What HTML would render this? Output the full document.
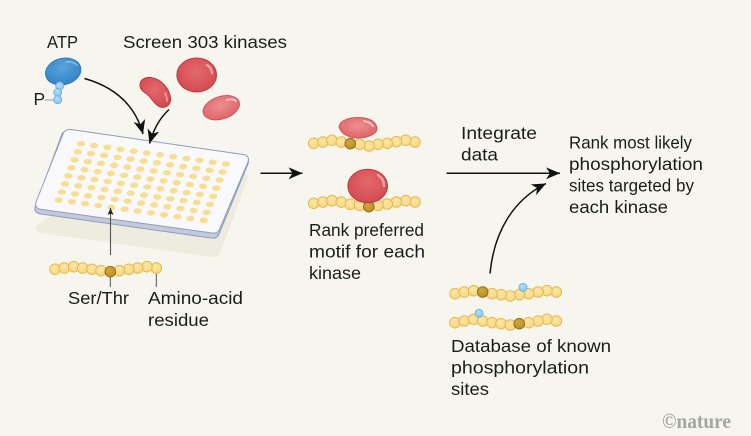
<!DOCTYPE html>
<html><head><meta charset="utf-8"><style>
html,body{margin:0;padding:0;background:#f6f5ee;}
svg{display:block;}
text{font-family:"Liberation Sans",sans-serif;font-size:17.4px;fill:#1c1c1c;}
</style></head><body>
<svg width="751" height="436" viewBox="0 0 751 436" xmlns="http://www.w3.org/2000/svg">
<defs>
<radialGradient id="y" cx="0.4" cy="0.35" r="0.7"><stop offset="0" stop-color="#fbe5a4"/><stop offset="1" stop-color="#f7d985"/></radialGradient>
<radialGradient id="d" cx="0.4" cy="0.35" r="0.7"><stop offset="0" stop-color="#d2a83e"/><stop offset="1" stop-color="#b98f25"/></radialGradient>
<radialGradient id="bl" cx="0.4" cy="0.35" r="0.7"><stop offset="0" stop-color="#b6dcf5"/><stop offset="1" stop-color="#8cc4ec"/></radialGradient>
<radialGradient id="r1" cx="0.5" cy="0.4" r="0.65"><stop offset="0" stop-color="#e4686b"/><stop offset="1" stop-color="#d2494e"/></radialGradient>
<radialGradient id="r2" cx="0.5" cy="0.4" r="0.65"><stop offset="0" stop-color="#ec8e90"/><stop offset="1" stop-color="#de6165"/></radialGradient>
<radialGradient id="b1" cx="0.5" cy="0.35" r="0.7"><stop offset="0" stop-color="#5ba3db"/><stop offset="1" stop-color="#2f80c4"/></radialGradient>
<circle id="b" r="5.3" fill="url(#y)" stroke="#e6b94f" stroke-width="1"/>
<circle id="k" r="5.3" fill="url(#d)" stroke="#94701a" stroke-width="1"/>
<circle id="p" r="4" fill="url(#bl)" stroke="#6db0e2" stroke-width="0.9"/>
<g id="wr" fill="#f9dd92">
<ellipse cx="0" cy="0" rx="4.1" ry="2.8"/><ellipse cx="13.17" cy="1.85" rx="4.1" ry="2.8"/><ellipse cx="26.34" cy="3.7" rx="4.1" ry="2.8"/><ellipse cx="39.51" cy="5.55" rx="4.1" ry="2.8"/><ellipse cx="52.68" cy="7.4" rx="4.1" ry="2.8"/><ellipse cx="65.85" cy="9.25" rx="4.1" ry="2.8"/><ellipse cx="79.02" cy="11.1" rx="4.1" ry="2.8"/><ellipse cx="92.19" cy="12.95" rx="4.1" ry="2.8"/><ellipse cx="105.36" cy="14.8" rx="4.1" ry="2.8"/><ellipse cx="118.53" cy="16.65" rx="4.1" ry="2.8"/><ellipse cx="131.7" cy="18.5" rx="4.1" ry="2.8"/><ellipse cx="144.87" cy="20.35" rx="4.1" ry="2.8"/>
</g>
<marker id="ah" markerUnits="userSpaceOnUse" markerWidth="16" markerHeight="14" refX="14" refY="6" orient="auto"><path d="M0,0 L14,6 L0,12 L4,6 z" fill="#111"/></marker>
<marker id="sm" markerUnits="userSpaceOnUse" markerWidth="8" markerHeight="8" refX="7" refY="3" orient="auto"><path d="M0,0 L7,3 L0,6 L1.5,3 z" fill="#222"/></marker>
</defs>
<rect width="751" height="436" fill="#f6f5ee"/>

<!-- plate shadow -->
<path d="M60,210 L36,226 Q35,232 41,233 L212,257 Q218,258 220,253 L249,175 L200,150 Z" fill="#eeecdf"/>
<!-- plate -->
<path d="M70,132 L245,157 Q250,158 248,164 L219,234 Q217,239 211,238 L41,214 Q34,213 35,207 L62,134 Q64,130 70,132 Z" fill="#c3cadc" stroke="#8f9cbc" stroke-width="1"/>
<path d="M71,129.5 L243,154.5 Q250,155.5 248,162 L220,228 Q218,234 212,233 L42,209.5 Q34,208.5 36,202 L63,134 Q65,129 71,129.5 Z" fill="#f9f9fb" stroke="#8f9cbc" stroke-width="1"/>
<use href="#wr" x="81" y="143.7"/><use href="#wr" x="77.8" y="151.75"/><use href="#wr" x="74.6" y="159.8"/><use href="#wr" x="71.4" y="167.85"/><use href="#wr" x="68.2" y="175.9"/><use href="#wr" x="65" y="183.95"/><use href="#wr" x="61.9" y="192"/><use href="#wr" x="58.7" y="200"/>

<!-- ATP -->
<ellipse cx="63.2" cy="71.5" rx="18" ry="13.2" transform="rotate(-14 63.2 71.5)" fill="url(#b1)" stroke="#2a74b4" stroke-width="0.8"/>
<path d="M66,62 Q73,61 77,65" stroke="#86bde8" stroke-width="1.6" fill="none" stroke-linecap="round"/>
<line x1="45" y1="100" x2="54" y2="100" stroke="#aaa" stroke-width="1.2"/>
<use href="#p" x="59.7" y="86"/><use href="#p" x="57.7" y="92.5"/><use href="#p" x="57.7" y="99.7"/>

<!-- kinases -->
<ellipse cx="196.7" cy="75" rx="19.8" ry="17" fill="url(#r1)" stroke="#b93a40" stroke-width="1"/>
<path d="M207,65 Q211,67 212,73" stroke="#eea0a0" stroke-width="2.5" fill="none" stroke-linecap="round"/>
<path d="M140,85 C140,79 147,76 153,78 C162,80 168,88 170,95 C172,102 169,107 163,107.5 C156,107 153,100 148,95 C144,92 140,90 140,85 Z" fill="url(#r1)" stroke="#b93a40" stroke-width="1"/>
<path d="M165,93 Q167,97 167,101" stroke="#eea0a0" stroke-width="1.6" fill="none" stroke-linecap="round"/>
<ellipse cx="221.3" cy="107.7" rx="18.8" ry="11.2" transform="rotate(-18 221.3 107.7)" fill="url(#r2)" stroke="#d0555a" stroke-width="1"/>
<path d="M227,100 Q232,98 236,101" stroke="#f6c0c0" stroke-width="2" fill="none" stroke-linecap="round"/>

<!-- arrows plate -->
<path d="M84.5,78.5 C118,88 136,108 143,134" fill="none" stroke="#111" stroke-width="1.5" marker-end="url(#ah)"/>
<path d="M169,109.5 C160,118 154,128 149.5,143.5" fill="none" stroke="#111" stroke-width="1.5" marker-end="url(#ah)"/>
<line x1="110.5" y1="255" x2="110.5" y2="208" stroke="#555" stroke-width="1.1" marker-end="url(#sm)"/>
<line x1="110.3" y1="276" x2="110.3" y2="287" stroke="#555" stroke-width="1"/>
<line x1="156.3" y1="272" x2="156.3" y2="287" stroke="#555" stroke-width="1"/>

<!-- chain 1 -->
<use href="#b" x="55" y="269.3"/><use href="#b" x="64.3" y="268"/><use href="#b" x="73.7" y="266.7"/><use href="#b" x="82.7" y="268"/><use href="#b" x="92" y="269.3"/><use href="#b" x="101" y="270.7"/><use href="#b" x="156.3" y="268"/><use href="#b" x="147" y="266.7"/><use href="#b" x="137.7" y="268"/><use href="#b" x="128.7" y="269.3"/><use href="#b" x="119.3" y="270.7"/><use href="#k" x="110.3" y="271.7"/>

<!-- chain 2 -->
<use href="#b" x="313.7" y="143.3"/><use href="#b" x="323" y="142"/><use href="#b" x="332" y="140.3"/><use href="#b" x="341.3" y="142"/><use href="#b" x="415" y="142"/><use href="#b" x="405.7" y="140.3"/><use href="#b" x="396.3" y="141.7"/><use href="#b" x="387.3" y="143.3"/><use href="#b" x="378" y="144.3"/><use href="#b" x="369" y="146"/><use href="#b" x="359.7" y="144.3"/><use href="#k" x="350.3" y="143.7"/>
<path d="M339,127 C340,120 350,117 360,117.5 C371,118 377,123 377,129 C376,135 366,138 357,138 C349,138 341,134 339,127 Z" fill="url(#r2)" stroke="#d0555a" stroke-width="1"/>
<path d="M364,121 Q370,122 373,126" stroke="#f6c0c0" stroke-width="2" fill="none" stroke-linecap="round"/>

<!-- chain 3 -->
<use href="#b" x="313.7" y="203.3"/><use href="#b" x="323" y="202"/><use href="#b" x="332" y="200.7"/><use href="#b" x="341.3" y="202"/><use href="#b" x="350.3" y="204.3"/><use href="#b" x="359.7" y="205.3"/><use href="#b" x="415" y="202"/><use href="#b" x="405.7" y="200.7"/><use href="#b" x="396.3" y="202"/><use href="#b" x="387.3" y="204"/><use href="#b" x="378" y="205.3"/><use href="#k" x="368.8" y="206.7"/>
<ellipse cx="367.7" cy="186" rx="19.8" ry="16.8" fill="url(#r1)" stroke="#b93a40" stroke-width="1"/>
<path d="M378,175 Q384,179 384,186" stroke="#eea0a0" stroke-width="2.5" fill="none" stroke-linecap="round"/>

<!-- chain 4 -->
<use href="#b" x="455" y="293.7"/><use href="#b" x="464.3" y="292"/><use href="#b" x="473.7" y="290.7"/><use href="#b" x="556.3" y="292"/><use href="#b" x="547" y="290.7"/><use href="#b" x="538" y="292"/><use href="#b" x="528.7" y="293.7"/><use href="#b" x="519.3" y="294.7"/><use href="#b" x="510.3" y="296"/><use href="#b" x="501" y="294.7"/><use href="#b" x="492" y="293.7"/><use href="#k" x="482.7" y="292"/>
<use href="#p" x="523" y="287.3"/>

<!-- chain 5 -->
<use href="#b" x="455" y="322.7"/><use href="#b" x="464.3" y="321"/><use href="#b" x="473.7" y="319.3"/><use href="#b" x="482.7" y="321"/><use href="#b" x="492" y="322.7"/><use href="#b" x="501" y="323.7"/><use href="#b" x="510.3" y="325"/><use href="#b" x="556.3" y="321"/><use href="#b" x="547" y="319.3"/><use href="#b" x="538" y="321"/><use href="#b" x="528.7" y="322.7"/><use href="#k" x="519.3" y="323.7"/>
<use href="#p" x="479" y="313.3"/>

<!-- flow arrows -->
<line x1="260.5" y1="173.3" x2="302.5" y2="173.3" stroke="#111" stroke-width="1.5" marker-end="url(#ah)"/>
<line x1="446.5" y1="173.3" x2="560" y2="173.3" stroke="#111" stroke-width="1.5" marker-end="url(#ah)"/>
<path d="M490,273.5 C494,232 513,200 546,183.5" fill="none" stroke="#111" stroke-width="1.5" marker-end="url(#ah)"/>

<!-- labels -->
<text x="47" y="48" textLength="31" lengthAdjust="spacingAndGlyphs">ATP</text>
<text x="123" y="48" textLength="164" lengthAdjust="spacingAndGlyphs">Screen 303 kinases</text>
<text x="33.5" y="105">P</text>
<text x="68" y="304" textLength="61" lengthAdjust="spacingAndGlyphs">Ser/Thr</text>
<text x="148" y="304" textLength="95" lengthAdjust="spacingAndGlyphs">Amino-acid</text>
<text x="148" y="326" textLength="61" lengthAdjust="spacingAndGlyphs">residue</text>
<text x="309" y="236" textLength="115" lengthAdjust="spacingAndGlyphs">Rank preferred</text>
<text x="309" y="257.5" textLength="116" lengthAdjust="spacingAndGlyphs">motif for each</text>
<text x="309" y="279" textLength="52" lengthAdjust="spacingAndGlyphs">kinase</text>
<text x="461" y="139" textLength="76" lengthAdjust="spacingAndGlyphs">Integrate</text>
<text x="461" y="160.5" textLength="37" lengthAdjust="spacingAndGlyphs">data</text>
<text x="569" y="148.5" textLength="123" lengthAdjust="spacingAndGlyphs">Rank most likely</text>
<text x="569" y="170" textLength="134" lengthAdjust="spacingAndGlyphs">phosphorylation</text>
<text x="569" y="191.5" textLength="125" lengthAdjust="spacingAndGlyphs">sites targeted by</text>
<text x="569" y="213" textLength="99" lengthAdjust="spacingAndGlyphs">each kinase</text>
<text x="451" y="352" textLength="160" lengthAdjust="spacingAndGlyphs">Database of known</text>
<text x="451" y="373.5" textLength="138" lengthAdjust="spacingAndGlyphs">phosphorylation</text>
<text x="451" y="395" textLength="38" lengthAdjust="spacingAndGlyphs">sites</text>
<text x="662" y="428" textLength="69" lengthAdjust="spacingAndGlyphs" style="font-family:'Liberation Serif',serif;font-weight:bold;font-size:21px;fill:#a5a5a2">©nature</text>
</svg>
</body></html>
